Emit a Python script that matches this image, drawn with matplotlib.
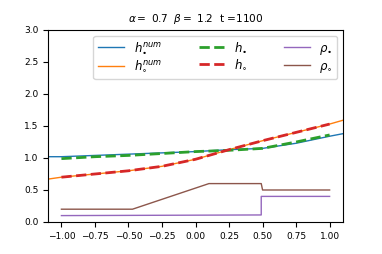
import matplotlib
matplotlib.use("Agg")
import matplotlib.pyplot as plt
import numpy as np

# numerical solutions (full domain)
x_num = [-1.1, -1.0, -0.75, -0.5, -0.25, 0.0, 0.25, 0.5, 0.75, 1.0, 1.1]
h_bullet_num = [1.02, 1.02, 1.04, 1.06, 1.08, 1.10, 1.13, 1.15, 1.23, 1.34, 1.38]
h_circ_num = [0.67, 0.70, 0.75, 0.80, 0.87, 0.98, 1.13, 1.27, 1.40, 1.53, 1.59]

# reference solutions on [-1, 1]
x_ref = [-1.0, -0.75, -0.5, -0.25, 0.0, 0.25, 0.5, 0.75, 1.0]
h_bullet = [0.99, 1.02, 1.04, 1.07, 1.10, 1.12, 1.15, 1.25, 1.36]
h_circ = [0.70, 0.75, 0.80, 0.87, 0.98, 1.13, 1.27, 1.40, 1.53]

# densities
x_rho_b = [-1.0, 0.49, 0.49, 1.0]
rho_bullet = [0.10, 0.11, 0.40, 0.40]
x_rho_c = [-1.0, -0.47, 0.10, 0.49, 0.50, 1.0]
rho_circ = [0.20, 0.20, 0.60, 0.60, 0.50, 0.50]

title = r"$\alpha=$ 0.7  $\beta=$ 1.2  t =1100"

plt.rcParams['font.size'] = 6.5
fig, ax = plt.subplots(figsize=(3.82, 2.54), dpi=100)
fig.subplots_adjust(left=0.1257, right=0.898, bottom=0.126, top=0.882)

ax.plot(x_num, h_bullet_num, color='C0', lw=1, label=r"$h_{\bullet}^{num}$")
ax.plot(x_num, h_circ_num, color='C1', lw=1, label=r"$h_{\circ}^{num}$")
ax.plot(x_ref, h_bullet, color='C2', lw=2, ls='--', label=r"$h_{\bullet}$")
ax.plot(x_ref, h_circ, color='C3', lw=2, ls='--', label=r"$h_{\circ}$")
ax.plot(x_rho_b, rho_bullet, color='C4', lw=1, label=r"$\rho_{\bullet}$")
ax.plot(x_rho_c, rho_circ, color='C5', lw=1, label=r"$\rho_{\circ}$")

ax.set_xlim(-1.1, 1.1)
ax.set_ylim(0, 3)
ax.set_xticks([-1.0, -0.75, -0.5, -0.25, 0.0, 0.25, 0.5, 0.75, 1.0])
ax.set_title(title, fontsize=7.6)
ax.legend(ncol=3, loc='upper right', fontsize=8.5, handlelength=2.2,
          columnspacing=3.1, labelspacing=0.25)

fig.savefig("out.png", dpi=100)
